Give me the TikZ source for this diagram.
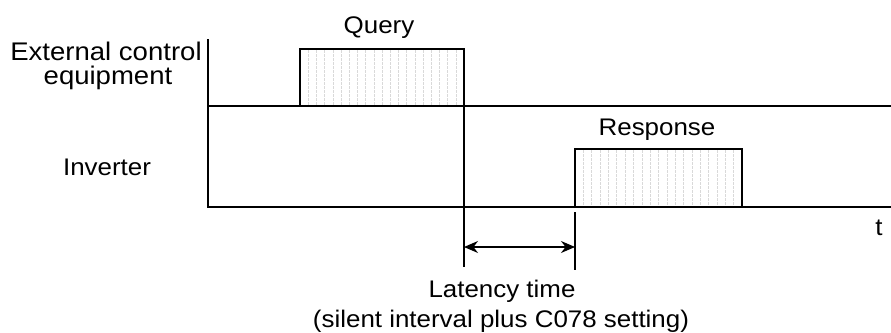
\documentclass[tikz,border=0pt]{standalone}
\usepackage{fontspec}
\setmainfont[FakeStretch=1.08]{Liberation Sans}
\usetikzlibrary{arrows.meta}
\begin{document}
\begin{tikzpicture}[x=1pt,y=-1pt,
  lbl/.style={inner sep=0pt,anchor=base,font=\fontsize{24}{28}\selectfont},
  biglbl/.style={inner sep=0pt,anchor=base,font=\fontsize{25.5}{28}\selectfont},
  axis/.style={line width=1.5pt,line cap=rect},
  hatch/.style={gray!30,line width=0.6pt,dash pattern=on 3pt off 1pt},
  dim/.style={line width=1.4pt,{Stealth[length=14pt,width=12pt]}-{Stealth[length=14pt,width=12pt]}}]
\useasboundingbox (0,0) rectangle (891,332);
% key coordinates
\coordinate (axtop) at (208,40);
\coordinate (axbot) at (208,207);
\coordinate (l1a) at (208,106);
\coordinate (l1b) at (891,106);
\coordinate (l2b) at (891,207);
\coordinate (q1) at (300,106);
\coordinate (q2) at (300,49);
\coordinate (q3) at (464,49);
\coordinate (q4) at (464,266);
\coordinate (r1) at (575,207);
\coordinate (r2) at (575,149);
\coordinate (r3) at (742,149);
\coordinate (r4) at (742,207);
\coordinate (rt) at (575,213);
\coordinate (rb) at (575,269);
\coordinate (da) at (464,247);
\coordinate (db) at (575,247);
% hatching
\foreach \i in {1,...,19} {
  \draw[hatch] ({300+\i*8.2},50) -- ({300+\i*8.2},105);
  \draw[hatch] ({575+\i*8.35},150) -- ({575+\i*8.35},206);
}
% timelines
\draw[axis] (axtop) -- (axbot);
\draw[axis] (l1a) -- (l1b);
\draw[axis] (axbot) -- (l2b);
% query pulse
\draw[axis] (q1) -- (q2) -- (q3) -- (q4);
% response pulse
\draw[axis] (r1) -- (r2) -- (r3) -- (r4);
\draw[axis] (rt) -- (rb);
% latency dimension
\draw[dim] (da) -- (db);
% labels
\node[lbl] (query) at (379,33) {Query};
\node[biglbl] (ext1) at (106,60) {External control};
\node[biglbl] (ext2) at (108,84) {equipment};
\node[lbl] (inv) at (107,175) {Inverter};
\node[lbl] (resp) at (657,135) {Response};
\node[lbl] (t) at (879,235) {t};
\node[lbl] (lat1) at (502,297) {Latency time};
\node[lbl] (lat2) at (501,327) {(silent interval plus C078 setting)};
\end{tikzpicture}
\end{document}
